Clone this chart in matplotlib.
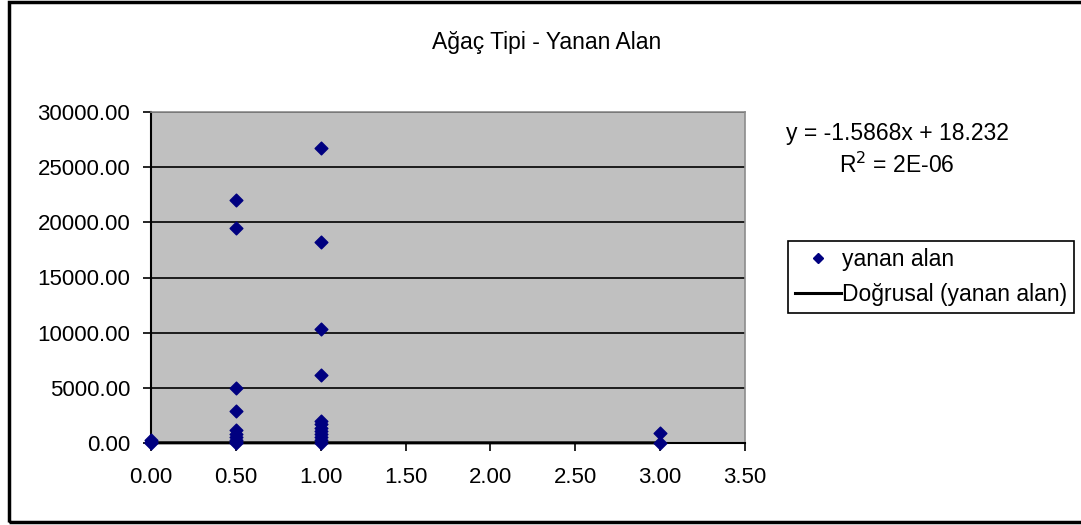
import numpy as np
import matplotlib.pyplot as plt
from matplotlib.lines import Line2D
from matplotlib.patches import Rectangle

plt.rcParams["font.family"] = ["Liberation Sans", "DejaVu Sans"]

# agac tipi (x) and yanan alan (y)
agac_tipi = [0.0, 0.0, 0.0,
             0.5, 0.5, 0.5, 0.5, 0.5, 0.5, 0.5, 0.5, 0.5, 0.5,
             1.0, 1.0, 1.0, 1.0, 1.0, 1.0, 1.0, 1.0, 1.0, 1.0, 1.0, 1.0,
             3.0, 3.0]
yanan_alan = [0, 120, 250,
              22000, 19500, 5000, 2900, 1200, 800, 500, 250, 100, 0,
              26700, 18200, 10300, 6200, 2000, 1700, 1400, 1100, 800, 500, 250, 0,
              900, 0]

slope = -1.5868
intercept = 18.232
r2_text = "2E-06"

x_ticks = [0.0, 0.5, 1.0, 1.5, 2.0, 2.5, 3.0, 3.5]
y_ticks = [0, 5000, 10000, 15000, 20000, 25000, 30000]

W, H = 1081, 525
fig = plt.figure(figsize=(W / 100, H / 100), dpi=100)
fig.patch.set_facecolor("white")

# outer chart frame
fig.patches.append(Rectangle((9 / W, 1 - 522 / H), 1080 / W, 520 / H,
                             transform=fig.transFigure, fill=False,
                             edgecolor="black", linewidth=2.5))

ax = fig.add_axes([151 / W, 1 - 443 / H, (745 - 151) / W, (443 - 112) / H])
ax.set_facecolor("#c0c0c0")

ax.scatter(agac_tipi, yanan_alan, marker="D", s=42, color="#000080",
           zorder=4, clip_on=False)

xs = np.array([min(agac_tipi), max(agac_tipi)])
ax.plot(xs, slope * xs + intercept, color="black", lw=2.2, zorder=3,
        clip_on=False)

ax.set_xlim(0, 3.5)
ax.set_ylim(0, 30000)
ax.set_xticks(x_ticks)
ax.set_yticks(y_ticks)
ax.set_xticklabels(["%.2f" % v for v in x_ticks])
ax.set_yticklabels(["%.2f" % v for v in y_ticks])
ax.tick_params(direction="out", length=6, width=1.2, colors="black",
               labelsize=16)
ax.tick_params(axis="y", pad=9)
ax.tick_params(axis="x", pad=11)

ax.grid(axis="y", color="black", lw=1.2)
ax.set_axisbelow(True)
for side in ("top", "right"):
    ax.spines[side].set_color("#8c8c8c")
    ax.spines[side].set_linewidth(1.2)
ax.spines["left"].set_color("black")
ax.spines["left"].set_linewidth(1.5)
ax.spines["bottom"].set_color("black")
ax.spines["bottom"].set_linewidth(1.5)

fig.text(547 / W, 1 - 42 / H, "Ağaç Tipi - Yanan Alan", ha="center",
         va="center", fontsize=16.5)

fig.text(897 / W, 1 - 133 / H, "y = -1.5868x + 18.232", ha="center",
         va="center", fontsize=16.5)
fig.text(897 / W, 1 - 165 / H, r"R$^2$ = " + r2_text, ha="center",
         va="center", fontsize=16.5)

handles = [Line2D([], [], marker="D", ls="none", color="#000080", ms=5),
           Line2D([], [], color="black", lw=2.2)]
leg = fig.legend(handles, ["yanan alan", "Doğrusal (yanan alan)"],
                 loc="upper left", bbox_to_anchor=(788 / W, 1 - 241 / H),
                 fontsize=16.5, frameon=True, fancybox=False, framealpha=1,
                 edgecolor="black", borderpad=0.3, handlelength=2.0,
                 handletextpad=0.05, labelspacing=0.55, borderaxespad=0)
leg.get_frame().set_linewidth(1.2)

fig.savefig("out.png", dpi=100)
